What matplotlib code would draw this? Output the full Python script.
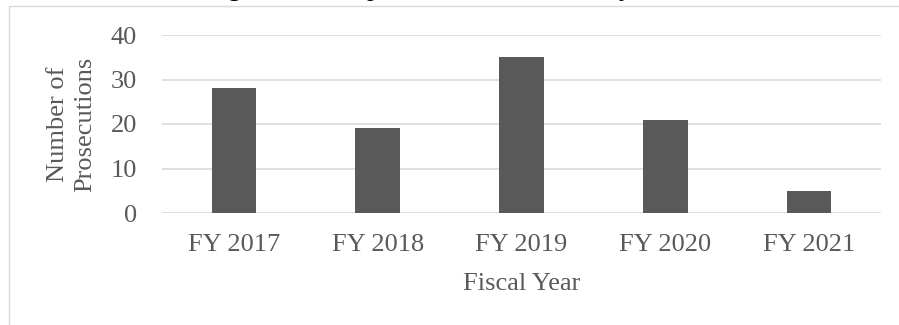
import matplotlib.pyplot as plt
import matplotlib.patches as patches

# data
fiscal_years = ["FY 2017", "FY 2018", "FY 2019", "FY 2020", "FY 2021"]
prosecutions = [28, 19, 35, 21, 5]
y_ticks = [0, 10, 20, 30, 40]

W, H = 899, 325
text_grey = "#595959"
grid_grey = "#d9d9d9"

plt.rcParams['font.family'] = ['Liberation Serif', 'DejaVu Serif']

fig = plt.figure(figsize=(W / 100, H / 100), dpi=100)

# outer chart-area border (runs off the right and bottom edges)
fig.patches.append(patches.Rectangle((8.5 / W, -0.5), 2.0, 1.5 - 6 / H,
                                     transform=fig.transFigure, fill=False,
                                     edgecolor=grid_grey, linewidth=1.0))

# title is cropped by the top of the image, only descenders show
fig.text(187 / W, 1 + 4 / H, "Drug Offenses Opened for Prosecution by Fiscal Year",
         ha='left', va='baseline', fontsize=19, color='black')

ax = fig.add_axes([162 / W, 1 - 213 / H, (881 - 162) / W, (213 - 35) / H])
x = range(len(fiscal_years))
ax.bar(x, prosecutions, width=0.31, color=text_grey, zorder=3)

ax.set_xlim(-0.5, len(fiscal_years) - 0.5)
ax.set_ylim(0, 40)
ax.set_yticks(y_ticks)
ax.set_xticks(list(x))
ax.set_xticklabels(fiscal_years)
ax.yaxis.grid(True, color=grid_grey, linewidth=1.2, zorder=0)
ax.set_axisbelow(True)
for s in ax.spines.values():
    s.set_visible(False)
ax.tick_params(axis='both', length=0, labelsize=19, colors=text_grey)
ax.tick_params(axis='y', pad=18)
ax.tick_params(axis='x', pad=15)

ax.set_xlabel("Fiscal Year", fontsize=19, color=text_grey, labelpad=12)
fig.text(72 / W, 1 - 124 / H, "Number of\nProsecutions", rotation=90,
         ha='center', va='center', multialignment='center',
         fontsize=19, color=text_grey, linespacing=1.3)

fig.savefig("out.png", dpi=100)
